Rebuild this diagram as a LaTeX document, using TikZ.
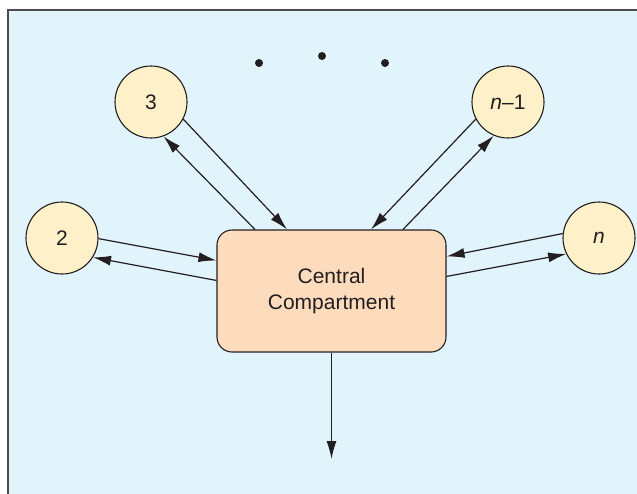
\documentclass[tikz,border=0pt]{standalone}
\usepackage{fontspec}
\setmainfont{Liberation Sans}
\usetikzlibrary{arrows.meta}
\definecolor{bgblue}{HTML}{E1F3FB}
\definecolor{circfill}{HTML}{FEF0C8}
\definecolor{boxfill}{HTML}{FDDCBD}
\definecolor{ink}{HTML}{231F20}
\begin{document}
\begin{tikzpicture}[x=1pt,y=-1pt,
  comp/.style={circle,draw=ink,line width=1.1pt,fill=circfill,minimum size=72pt,inner sep=0pt,font=\fontsize{21}{25}\selectfont,text=ink},
  central/.style={rectangle,rounded corners=15pt,draw=ink,line width=1.1pt,fill=boxfill,minimum width=229pt,minimum height=122pt,align=center,font=\fontsize{21}{26}\selectfont,text=ink},
  flow/.style={draw=ink,line width=1.2pt,-{Latex[length=18pt,width=10pt]}},
  dotn/.style={circle,fill=ink,minimum size=8pt,inner sep=0pt}]
\useasboundingbox (0,0) rectangle (637,493);
\fill[white] (0,0) rectangle (637,493);
\begin{scope}
\clip (0,0) rectangle (637,493);
\draw[fill=bgblue,draw=ink!80,line width=1.5pt] (8,10) rectangle (660,520);
\end{scope}
% dots
\node[dotn] (d1) at (259,63) {};
\node[dotn] (d2) at (322,56) {};
\node[dotn] (d3) at (385,63) {};
% compartments
\node[central] (cc) at (331.5,291) {Central\\Compartment};
\node[comp] (c2) at (62,238) {2};
\node[comp] (c3) at (151,102) {3};
\node[comp] (cn1) at (508,102) {\textit{n}–1};
\node[comp] (cn) at (599,238) {\textit{n}};
\coordinate (out) at (331.5,459);
% flows
\draw[flow] (c3.-28) -- ([xshift=-44.5pt]cc.north);
\draw[flow] ([xshift=-76.5pt]cc.north) -- (c3.-70);
\draw[flow] (cn1.-152) -- ([xshift=39.5pt]cc.north);
\draw[flow] ([xshift=71.5pt]cc.north) -- (cn1.-113);
\draw[flow] (cn.173.5) -- ([yshift=-27pt]cc.north east);
\draw[flow] ([yshift=-47pt]cc.north east) -- (cn.206.6);
\draw[flow] (c2.-1.6) -- ([yshift=-31pt]cc.north west);
\draw[flow] ([yshift=-51pt]cc.north west) -- (c2.-32.5);
\draw[flow] (cc.south) -- (out);
\end{tikzpicture}
\end{document}
